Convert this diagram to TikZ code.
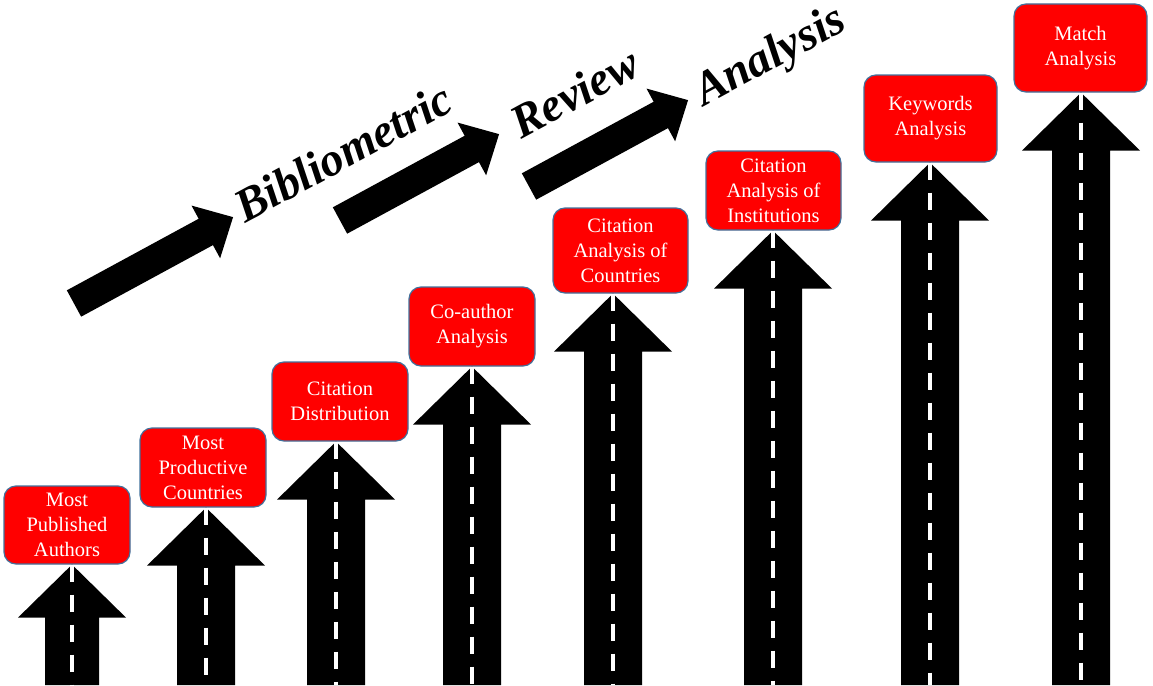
\documentclass[tikz,border=0pt]{standalone}
\usepackage{fontspec}
\setmainfont{Liberation Serif}
\usetikzlibrary{calc}
\definecolor{boxred}{RGB}{255,0,0}
\definecolor{boxedge}{RGB}{65,113,156}
\tikzset{
  topic/.style={draw=boxedge, line width=1.2pt, fill=boxred, rounded corners=12pt,
    text=white, align=center, inner sep=0pt, font=\fontsize{20.5}{25}\selectfont},
  lane/.style={white, line width=4pt, dash pattern=on 17pt off 13pt},
  stage/.style={font=\fontsize{47}{50}\selectfont\bfseries\itshape, rotate=28.5,
    anchor=base west, inner sep=0pt},
}
\begin{document}
\begin{tikzpicture}[x=1pt,y=-1pt]
	\useasboundingbox (0,0) rectangle (1153,685);
	% set up nodes
	\foreach \n/\cx/\cy/\w/\h/\ax/\hh/\hs/\hl/\txt in {
		authors/67/525/126/78/72/54/27/53/{Most\\Published\\Authors},
		prodcountries/203/467.5/126/79/206/59/29/58/{Most\\Productive\\Countries},
		citdist/340/401.5/136/79/336/59/29/58/{Citation\\Distribution},
		coauthor/472/326.5/126/79/472/59/29/58/{Co-author\\Analysis},
		citcountries/620.5/250.5/135/85/613/59/29/58/{Citation\\Analysis of\\Countries},
		citinst/773.5/190.5/135/79/773/59/29/58/{Citation\\Analysis of\\Institutions},
		keywords/930.5/118.5/133/87/930/59/29/58/{Keywords\\Analysis},
		match/1080.5/48/133/88/1081/59/29/58/{Match\\Analysis}}
	{
		\node[topic, minimum width=\w pt, minimum height=\h pt] (\n) at (\cx,\cy) {\txt};
		\coordinate (\n-base) at (\ax,685);
		\coordinate (\n-tip) at (\n.south -| \n-base);
		% road up to the box
		\fill (\n-tip) -- ++(\hh,\hl) -- ++(\hs-\hh,0) -- ($(\n-base)+(\hs,0)$)
			-- ($(\n-base)+(-\hs,0)$) -- ($(\n-tip)+(-\hs,\hl)$) -- ++(\hs-\hh,0) -- cycle;
		\draw[lane] (\n-tip) -- (\n-base);
	}
	% slanted title
	\node[stage] (bib) at (245,224) {Bibliometric};
	\node[stage] (review) at (521,140) {Review};
	\node[stage] (analysis) at (704,107) {Analysis};
	\coordinate (tailA) at (74,303.5);
	\coordinate (tailB) at (340,220.5);
	\coordinate (tailC) at (529,186.5);
	\foreach \t in {tailA,tailB,tailC}
		\fill[shift={(\t)}, rotate=28.5] (0,-15) -- (150,-15) -- (150,-30) -- (181,0)
			-- (150,30) -- (150,15) -- (0,15) -- cycle;
\end{tikzpicture}
\end{document}
